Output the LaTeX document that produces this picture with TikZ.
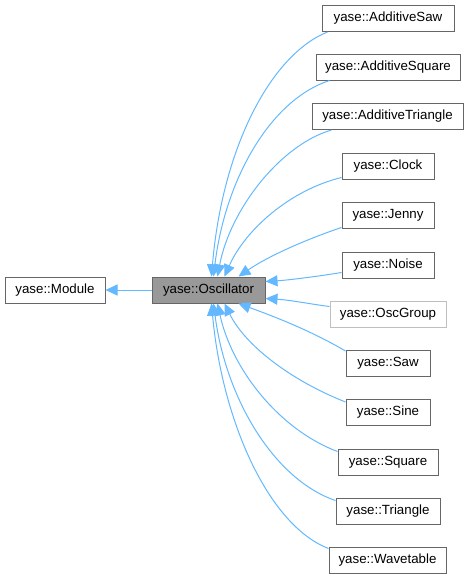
\documentclass[tikz,border=0pt]{standalone}
\usepackage{fontspec}
\setmainfont{Liberation Sans}
\usetikzlibrary{arrows.meta,calc}
\definecolor{edgeblue}{HTML}{63B8FF}
\definecolor{boxline}{HTML}{666666}
\definecolor{oscfill}{HTML}{999999}
\definecolor{greyline}{HTML}{BFBFBF}
\tikzset{
  cls/.style={draw=boxline, fill=white, line width=1pt, minimum height=26pt, inner sep=0pt,
    font=\fontsize{13.3pt}{15pt}\selectfont, text=black},
  edge/.style={draw=edgeblue, line width=1pt, -{Triangle[length=12pt,width=11pt]}},
}
\begin{document}
\begin{tikzpicture}[x=1pt,y=-1pt]
\useasboundingbox (0,0) rectangle (469,579);
\node[cls, minimum width=100pt] (mod) at (55,290) {yase::Module};
\node[cls, fill=oscfill, minimum width=113pt] (osc) at (208.5,290) {yase::Oscillator};
\node[cls, minimum width=132pt] (asaw) at (388,18.5) {yase::AdditiveSaw};
\node[cls, minimum width=144pt] (asq) at (388,67) {yase::AdditiveSquare};
\node[cls, minimum width=151pt] (atri) at (387.5,116.5) {yase::AdditiveTriangle};
\node[cls, minimum width=92pt] (clock) at (388,166) {yase::Clock};
\node[cls, minimum width=92pt] (jenny) at (388,215) {yase::Jenny};
\node[cls, minimum width=92pt] (noise) at (388,265) {yase::Noise};
\node[cls, draw=greyline, minimum width=116pt] (oscg) at (388,314.5) {yase::OscGroup};
\node[cls, minimum width=84pt] (saw) at (388,363.5) {yase::Saw};
\node[cls, minimum width=84pt] (sine) at (388,412.5) {yase::Sine};
\node[cls, minimum width=100pt] (square) at (388,462) {yase::Square};
\node[cls, minimum width=104pt] (tri) at (388,511) {yase::Triangle};
\node[cls, minimum width=117pt] (wave) at (387.5,560) {yase::Wavetable};

\draw[edge] (osc.west) -- (mod.east);

\draw[edge] ($(asaw.south west)+(6,0)$) .. controls (270,55) and (222,150) .. ($(osc.north west)+(60,0)$);
\draw[edge] ($(asq.south west)+(14,0)$) .. controls (270,100) and (225,180) .. ($(osc.north west)+(62,0)$);
\draw[edge] ($(atri.south west)+(20,0)$) .. controls (280,145) and (230,210) .. ($(osc.north west)+(66,0)$);
\draw[edge] ($(clock.south west)+(0,-2)$) .. controls (290,190) and (245,230) .. ($(osc.north west)+(73,0)$);
\draw[edge] ($(jenny.south west)+(0,-1)$) .. controls (310,238) and (270,255) .. ($(osc.north west)+(87,0)$);
\draw[edge] ($(noise.south west)+(0,-6)$) .. controls (320,276) and (290,280) .. ($(osc.north east)+(0,5)$);
\draw[edge] ($(oscg.west)+(0,-8)$) .. controls (310,304) and (290,300) .. ($(osc.south east)+(0,-5)$);
\draw[edge] ($(saw.north west)+(0,1)$) .. controls (310,330) and (270,315) .. ($(osc.south west)+(87,0)$);
\draw[edge] ($(sine.north west)+(0,3)$) .. controls (290,380) and (245,345) .. ($(osc.south west)+(73,0)$);
\draw[edge] ($(square.north west)+(0,3)$) .. controls (280,430) and (232,370) .. ($(osc.south west)+(66,0)$);
\draw[edge] ($(tri.north west)+(0,3)$) .. controls (275,480) and (226,400) .. ($(osc.south west)+(62,0)$);
\draw[edge] ($(wave.north west)+(0,2)$) .. controls (268,525) and (222,420) .. ($(osc.south west)+(60,0)$);
\end{tikzpicture}
\end{document}
